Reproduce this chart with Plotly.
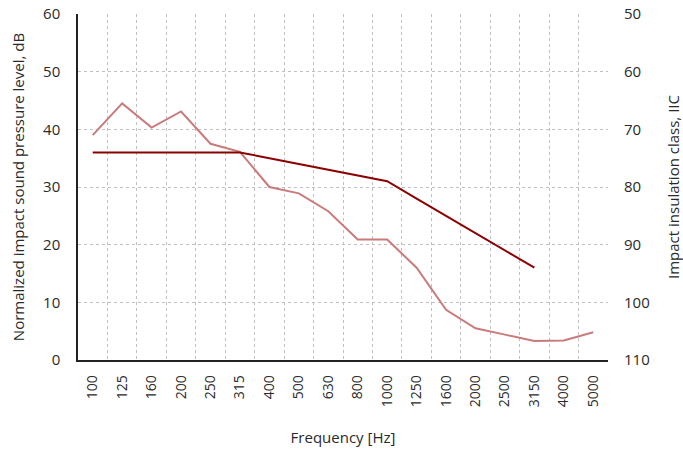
import plotly.graph_objects as go

freqs = ["100", "125", "160", "200", "250", "315", "400", "500", "630", "800",
         "1000", "1250", "1600", "2000", "2500", "3150", "4000", "5000"]
measured = [39.0, 44.5, 40.3, 43.1, 37.5, 36.1, 30.0, 28.9, 25.8, 20.9,
            20.9, 16.0, 8.7, 5.5, 4.4, 3.3, 3.4, 4.8]
ref_freqs = ["100", "125", "160", "200", "250", "315", "400", "500", "630", "800",
             "1000", "1250", "1600", "2000", "2500", "3150"]
reference = [36, 36, 36, 36, 36, 36, 35, 34, 33, 32, 31, 28, 25, 22, 19, 16]

left_ticks = [0, 10, 20, 30, 40, 50, 60]
right_ticks = [50, 60, 70, 80, 90, 100, 110]

FONT = "Open Sans"
TXT = "#2a2a2a"

fig = go.Figure()
fig.add_trace(go.Scatter(x=freqs, y=measured, mode="lines",
                         line=dict(color="#c97b7b", width=2), showlegend=False))
fig.add_trace(go.Scatter(x=ref_freqs, y=reference, mode="lines",
                         line=dict(color="#8b0000", width=2), showlegend=False))
fig.add_trace(go.Scatter(x=[freqs[0]], y=[right_ticks[0]], yaxis="y2", mode="lines",
                         line=dict(width=0), showlegend=False, hoverinfo="skip"))

fig.update_layout(
    width=683, height=455,
    margin=dict(l=78, r=75, t=14, b=95),
    paper_bgcolor="white", plot_bgcolor="white",
    font=dict(family=FONT, size=14, color=TXT),
    xaxis=dict(
        type="category", categoryorder="array", categoryarray=freqs,
        range=[-0.5, len(freqs) - 0.5], automargin=False,
        tickson="boundaries", ticks="", tickangle=-90,
        showgrid=True, gridcolor="#c0c0c0", griddash="3px,3px", gridwidth=1,
        showline=True, linecolor="#222222", linewidth=1.5,
        ticklabelstandoff=8,
        title=dict(text="Frequency [Hz]", standoff=26, font=dict(size=15, color=TXT)),
    ),
    yaxis=dict(
        range=[left_ticks[0], left_ticks[-1]], tickvals=left_ticks, automargin=False,
        showgrid=True, gridcolor="#c0c0c0", griddash="3px,3px", gridwidth=1,
        showline=True, linecolor="#222222", linewidth=1.5, zeroline=False,
        ticks="", ticklabelstandoff=13, tickfont=dict(size=15),
        title=dict(text="Normalized impact sound pressure level, dB", standoff=15,
                   font=dict(size=15, color=TXT)),
    ),
    yaxis2=dict(
        overlaying="y", side="right", automargin=False,
        range=[right_ticks[-1], right_ticks[0]], tickvals=right_ticks,
        showgrid=False, showline=False, zeroline=False,
        ticks="", ticklabelstandoff=15, tickfont=dict(size=15, color=TXT),
        title=dict(text="Impact insulation class, IIC", standoff=20,
                   font=dict(size=15, color=TXT)),
    ),
)

fig.write_html("out.html", config={"displayModeBar": False},
               post_script="document.body.style.margin='0';document.body.style.padding='0';")
